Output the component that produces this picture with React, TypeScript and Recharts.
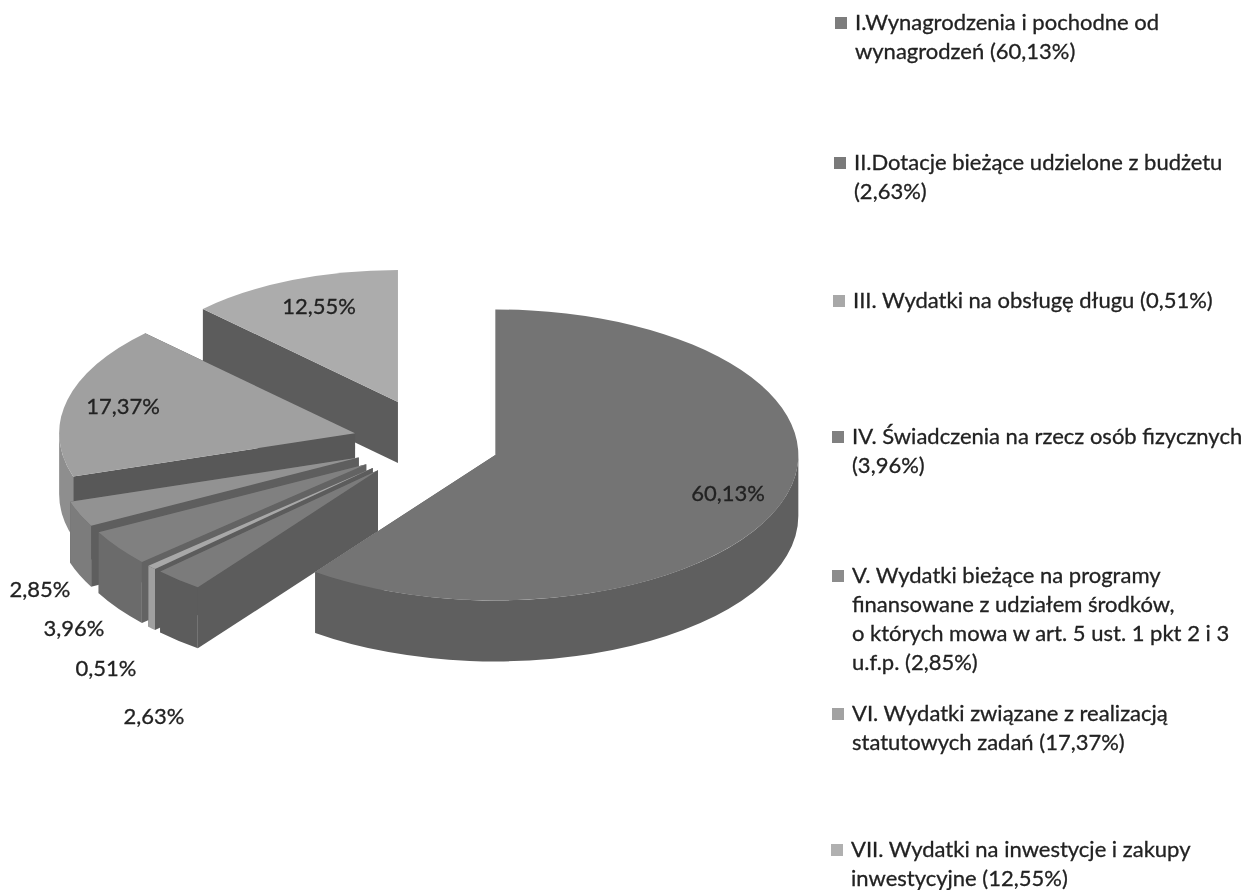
import React from "react";
import { PieChart, Pie, Legend } from "recharts";

const W = 1247;
const H = 890;

const names = ["I", "II", "III", "IV", "V", "VI", "VII"];
const shares = [60.13, 2.63, 0.51, 3.96, 2.85, 17.37, 12.55];
const valueLabels = ["60,13%", "2,63%", "0,51%", "3,96%", "2,85%", "17,37%", "12,55%"];
const legendLines = [
  ["I.Wynagrodzenia i pochodne od", "wynagrodzeń (60,13%)"],
  ["II.Dotacje bieżące udzielone z budżetu", "(2,63%)"],
  ["III. Wydatki na obsługę długu (0,51%)"],
  ["IV. Świadczenia na rzecz osób fizycznych", "(3,96%)"],
  [
    "V. Wydatki bieżące na programy",
    "finansowane z udziałem środków,",
    "o których mowa w art. 5 ust. 1 pkt 2 i 3",
    "u.f.p. (2,85%)",
  ],
  ["VI. Wydatki związane z realizacją", "statutowych zadań (17,37%)"],
  ["VII. Wydatki na inwestycje i zakupy", "inwestycyjne (12,55%)"],
];

// styling, separate from the values
const topColors = ["#747474", "#7b7b7b", "#a8a8a8", "#808080", "#929292", "#a0a0a0", "#acacac"];
const rimColors = ["#5f5f5f", "#5c5c5c", "#a0a0a0", "#6b6b6b", "#7c7c7c", "#8e8e8e", "#606060"];
const radialColors = ["#5f5f5f", "#5c5c5c", "#5c5c5c", "#636363", "#5e5e5e", "#585858", "#5c5c5c"];
const legendColors = ["#7d7d7d", "#7a7a7a", "#a8a8a8", "#808080", "#8c8c8c", "#a2a2a2", "#b0b0b0"];
const legendTops = [22, 162, 300, 436, 575, 713, 849];
const legendLefts = [855, 854, 853, 852, 852, 852, 851];
const labelAnchors = [
  [728, 492],
  [154, 715],
  [106, 667],
  [74, 627],
  [40, 588],
  [123, 405],
  [319, 305],
];

const TILT = 0.48;
const EXPLODE = 73;
const DEPTH = 61;
const BACK_SHRINK = 0.1;
const BACK_LIFT = 1.3;

const rows = names
  .map((name, i) => ({
    name,
    value: shares[i],
    label: valueLabels[i],
    top: topColors[i],
    rim: rimColors[i],
    side: radialColors[i],
    anchor: labelAnchors[i],
  }))
  .reverse();

const rad = (d: number) => (d * Math.PI) / 180;

function Slice3D(props: any) {
  const { cx, cy, outerRadius, startAngle, endAngle } = props;
  const row = props.payload && props.payload.top ? props.payload : props;
  const a0 = Math.min(startAngle, endAngle);
  const a1 = Math.max(startAngle, endAngle);
  const mid = (a0 + a1) / 2;
  const up = Math.sin(rad(mid));
  const s = 1 - BACK_SHRINK * Math.max(0, up);
  const rx = outerRadius * s;
  const ry = outerRadius * TILT * s;
  const ax = cx + EXPLODE * Math.cos(rad(mid));
  const ay = cy - EXPLODE * TILT * up * (up > 0 ? BACK_LIFT : 1);
  const p = (a: number) => [ax + rx * Math.cos(rad(a)), ay - ry * Math.sin(rad(a))];
  const arc = (from: number, to: number, dy: number, rev = false) => {
    const q = p(to);
    const large = Math.abs(to - from) > 180 ? 1 : 0;
    return `A ${rx} ${ry} 0 ${large} ${rev ? 1 : 0} ${q[0]} ${q[1] + dy}`;
  };
  const ps = p(a0);
  const pe = p(a1);
  const topPath = `M ${ax} ${ay} L ${ps[0]} ${ps[1]} ${arc(a0, a1, 0)} Z`;
  const radial = (q: number[]) =>
    `M ${ax} ${ay} L ${q[0]} ${q[1]} L ${q[0]} ${q[1] + DEPTH} L ${ax} ${ay + DEPTH} Z`;
  const w0 = Math.max(a0, 180);
  const w1 = Math.min(a1, 360);
  let outer = "";
  if (w1 > w0) {
    const q0 = p(w0);
    const q1 = p(w1);
    outer =
      `M ${q0[0]} ${q0[1]} ${arc(w0, w1, 0)} L ${q1[0]} ${q1[1] + DEPTH} ` +
      `${arc(w1, w0, DEPTH, true)} Z`;
  }
  return (
    <g>
      <path d={radial(ps)} fill={row.side} />
      <path d={radial(pe)} fill={row.side} />
      {outer && <path d={outer} fill={row.rim} />}
      <path d={topPath} fill={row.top} />
    </g>
  );
}

const FONT = "Lato, 'Open Sans', sans-serif";
const TEXT_SIZE = 22;

function renderLabel(props: any) {
  const row = props.payload && props.payload.anchor ? props.payload : props;
  return (
    <text
      x={row.anchor[0]}
      y={row.anchor[1]}
      textAnchor="middle"
      dominantBaseline="central"
      fontFamily={FONT}
      fontSize={TEXT_SIZE}
      fill="#222222"
      stroke="#222222"
      strokeWidth={0.3}
    >
      {row.label}
    </text>
  );
}

function LegendBlock() {
  return (
    <div style={{ position: "absolute", left: 0, top: 0, width: W, height: H, fontFamily: FONT }}>
      {legendLines.map((lines, i) => (
        <React.Fragment key={i}>
          <div
            style={{
              position: "absolute",
              left: legendLefts[i] - 20,
              top: legendTops[i] - 5,
              width: 12,
              height: 12,
              background: legendColors[i],
            }}
          />
          {lines.map((line, j) => (
            <div
              key={j}
              style={{
                position: "absolute",
                left: legendLefts[i],
                top: legendTops[i] + j * 29 - 14,
                height: 28,
                lineHeight: "28px",
                fontSize: TEXT_SIZE,
                whiteSpace: "nowrap",
                color: "#222222",
                WebkitTextStroke: "0.3px #222222",
              }}
            >
              {line}
            </div>
          ))}
        </React.Fragment>
      ))}
    </div>
  );
}

export default function App() {
  return (
    <div
      style={{
        position: "absolute",
        left: 0,
        top: 0,
        width: W,
        height: H,
        background: "#fff",
        overflow: "hidden",
        filter: "blur(0.4px)",
      }}
    >
      <PieChart width={W} height={H} margin={{ top: 0, right: 0, bottom: 0, left: 0 }}>
        <Pie
          data={rows}
          dataKey="value"
          nameKey="name"
          cx={426}
          cy={444}
          outerRadius={303}
          startAngle={90}
          endAngle={450}
          stroke="none"
          isAnimationActive={false}
          shape={Slice3D}
          label={renderLabel}
          labelLine={false}
        />
        <Legend
          content={() => <LegendBlock />}
          wrapperStyle={{ position: "absolute", left: 0, top: 0, width: W, height: H, pointerEvents: "none" }}
        />
      </PieChart>
    </div>
  );
}
